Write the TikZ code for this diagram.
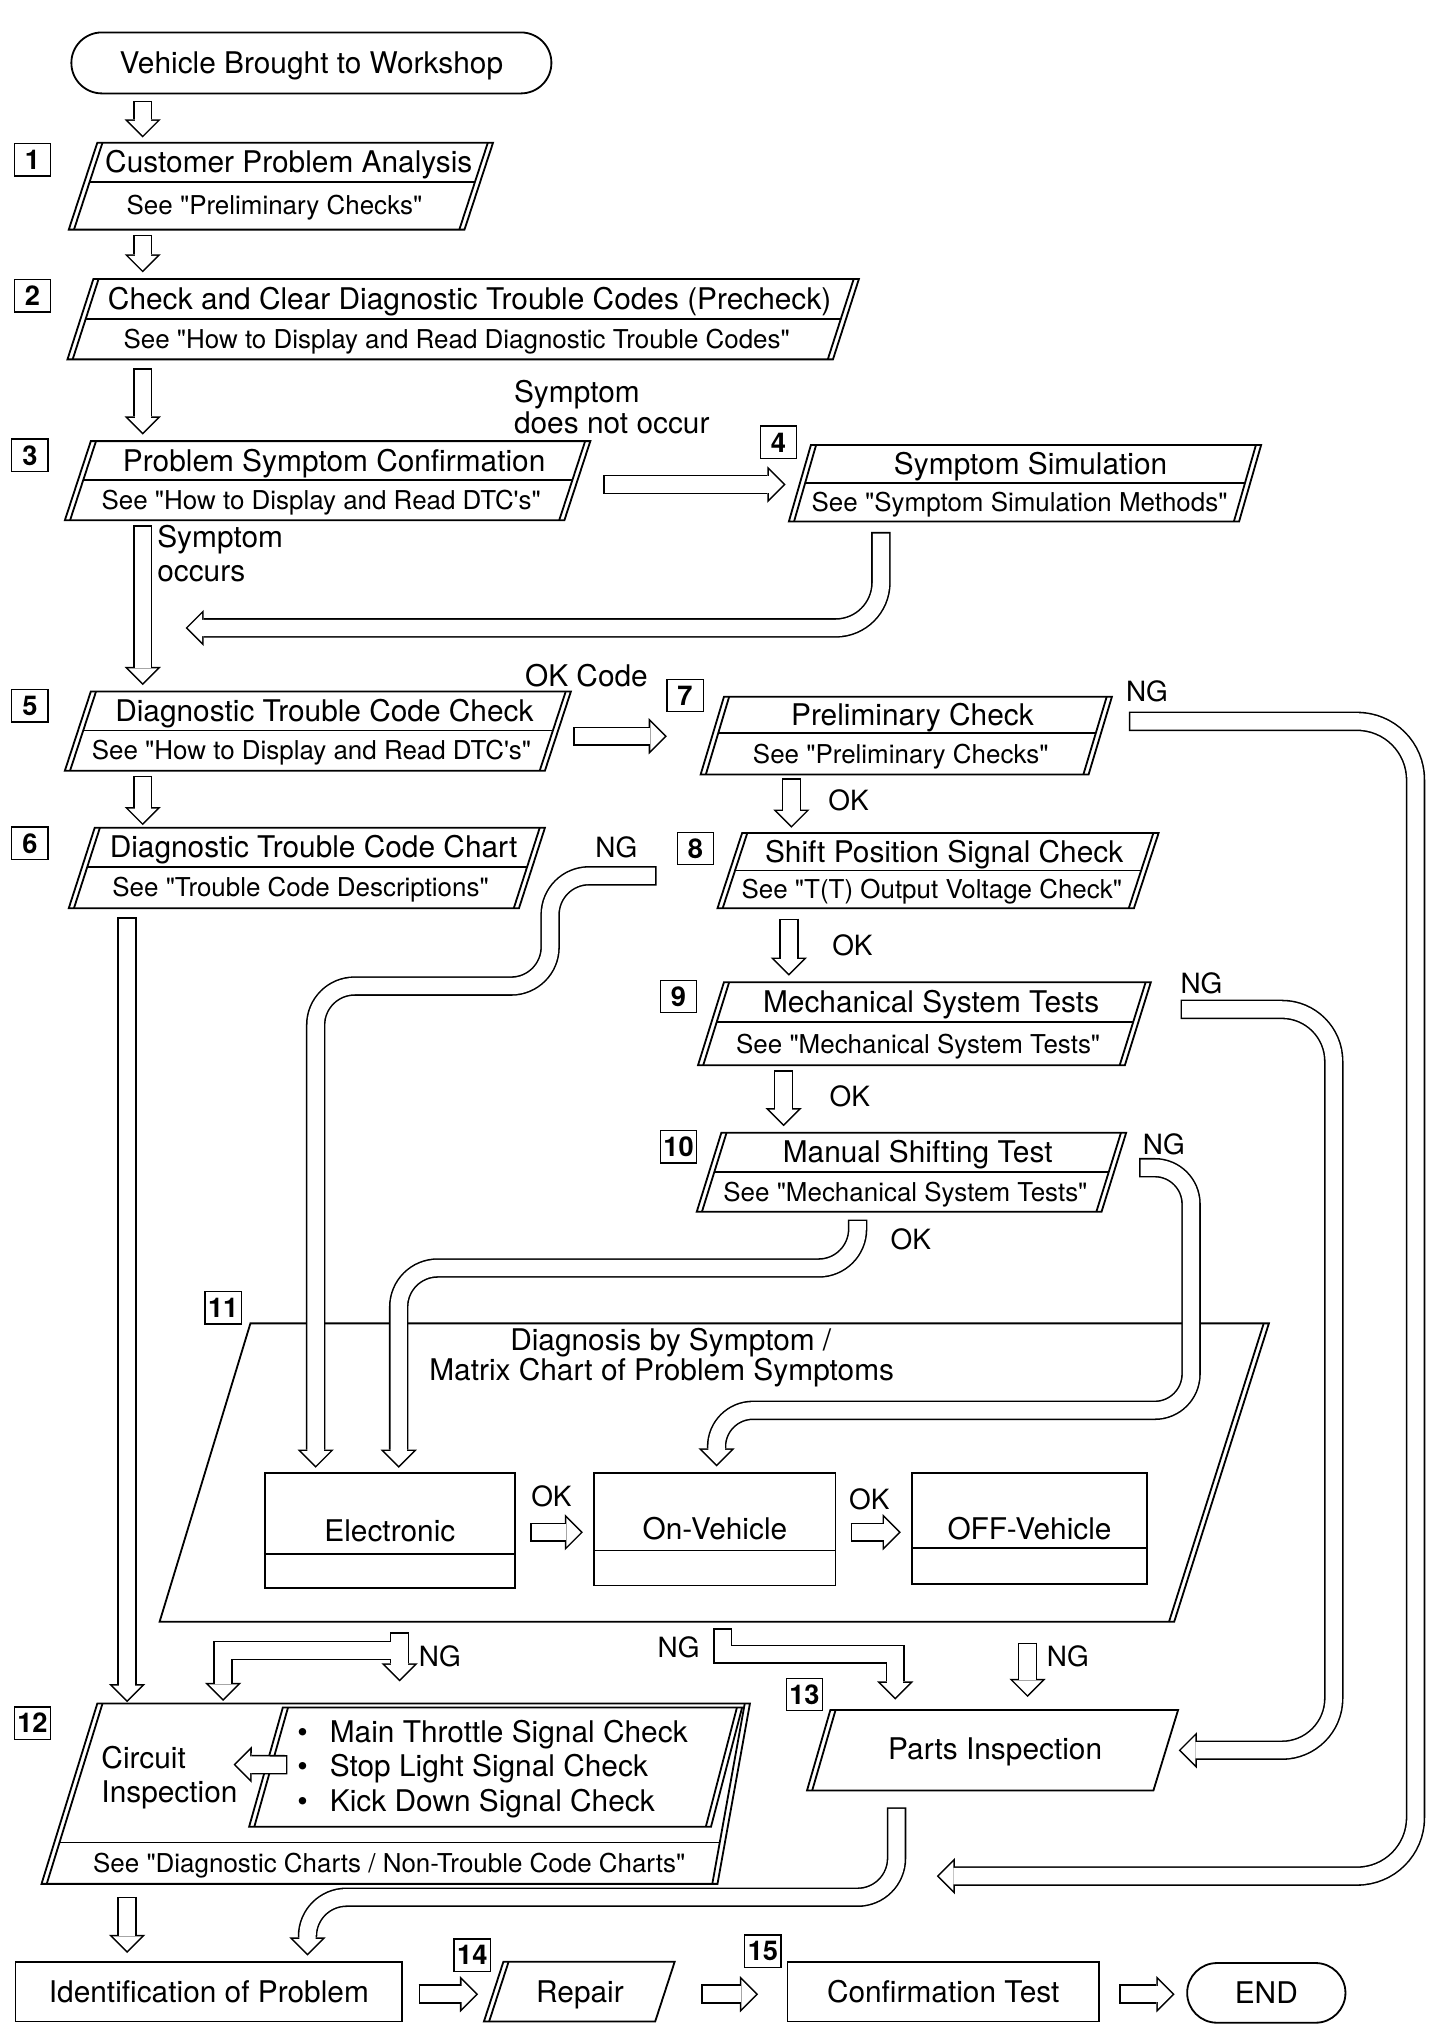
\documentclass[tikz,border=0pt]{standalone}
\usepackage{fontspec}
\setmainfont{TeX Gyre Heros}[Ligatures=TeXOff]
\usetikzlibrary{arrows.meta,calc}

\tikzset{
  frame/.style={line width=1.4pt},
  txt/.style={font=\fontsize{23}{26}\selectfont, inner sep=0pt, text height=16.5pt, text depth=0pt},
  sub/.style={font=\fontsize{20}{23}\selectfont, inner sep=0pt, text height=14.4pt, text depth=0pt},
  lbl/.style={font=\fontsize{21.5}{24}\selectfont, inner sep=0pt, text height=15.5pt, text depth=0pt},
  num/.style={draw, line width=1.1pt, font=\fontsize{21}{21}\selectfont\bfseries, minimum width=28pt, minimum height=25pt, inner sep=0pt},
  box/.style={draw, frame, txt},
  hbody/.style={line width=15pt, -{Triangle[length=14pt, width=28pt, line width=0pt]}},
  hcore/.style={draw=white, line width=12.6pt, shorten <=1.2pt, shorten >=1.7pt, -{Triangle[length=11.1pt, width=22.2pt, line width=0pt]}},
  hollow/.style={hbody, postaction={hcore}},
}

% step box: name, x top left, x top right, y top, y bottom, slant, y divider, title, reference
\newcommand\stepbox[9]{%
  \coordinate (#1-tl) at (#2,#4);
  \coordinate (#1-tr) at (#3,#4);
  \coordinate (#1-br) at ({#3-#6},#5);
  \coordinate (#1-bl) at ({#2-#6},#5);
  \draw[frame] (#1-tl) -- (#1-tr) -- (#1-br) -- (#1-bl) -- cycle;
  \draw[frame] ($(#1-tl)+(4,0)$) -- ($(#1-bl)+(4,0)$);
  \draw[frame] ($(#1-tr)+(-4,0)$) -- ($(#1-br)+(-4,0)$);
  \draw[frame] ({#2+4-#6*(#7-#4)/(#5-#4)},#7) -- ({#3-4-#6*(#7-#4)/(#5-#4)},#7);
  \node[txt] (#1) at ({(#2+#3)/2-#6*(#7-#4)/(2*(#5-#4))},{(#4+#7)/2}) {#8};
  \node[sub] (#1-s) at ({(#2+#3)/2-#6*((#7+#5)/2-#4)/(#5-#4)},{(#7+#5)/2}) {#9};
}

\begin{document}
\begin{tikzpicture}[x=1pt, y=-1pt]
    \useasboundingbox (0,0) rectangle (1110,1560);

    % start
    \node[box, rounded corners=23.5pt, minimum width=370pt, minimum height=47pt] (start) at (240,48.5) {Vehicle Brought to Workshop};

    % step numbers
    \node[num] (n1) at (25,123) {1};
    \node[num] (n2) at (25,228) {2};
    \node[num] (n3) at (23,351) {3};
    \node[num] (n4) at (600,341) {4};
    \node[num] (n5) at (23,544) {5};
    \node[num] (n6) at (23,650) {6};
    \node[num] (n7) at (528,536) {7};
    \node[num] (n8) at (536,654) {8};
    \node[num] (n9) at (523,768) {9};
    \node[num] (n10) at (523,884) {10};
    \node[num] (n11) at (172,1008) {11};
    \node[num] (n12) at (25,1328) {12};
    \node[num] (n13) at (620,1306) {13};
    \node[num] (n14) at (364,1507) {14};
    \node[num] (n15) at (588,1504) {15};

    % steps
    \stepbox{s1}{75}{380}{110}{177}{22}{140}{Customer Problem Analysis}{See "Preliminary Checks"}
    \stepbox{s2}{72}{662}{215}{277}{20}{246}{Check and Clear Diagnostic Trouble Codes (Precheck)}{See "How to Display and Read Diagnostic Trouble Codes"}
    \stepbox{s3}{70}{455}{340}{401}{20}{370}{Problem Symptom Confirmation}{See "How to Display and Read DTC's"}
    \stepbox{s4}{625}{972}{343}{402}{17}{372}{Symptom Simulation}{See "Symptom Simulation Methods"}
    \stepbox{s5}{70}{440}{533}{594}{20}{563}{Diagnostic Trouble Code Check}{See "How to Display and Read DTC's"}
    \stepbox{s6}{73}{420}{638}{700}{20}{668}{Diagnostic Trouble Code Chart}{See "Trouble Code Descriptions"}
    \stepbox{s7}{558}{857}{537}{597}{18}{565}{Preliminary Check}{See "Preliminary Checks"}
    \stepbox{s8}{572}{893}{642}{700}{19}{671}{Shift Position Signal Check}{See "T(T) Output Voltage Check"}
    \stepbox{s9}{558}{887}{757}{821}{20}{788}{Mechanical System Tests}{See "Mechanical System Tests"}
    \stepbox{s10}{556}{868}{873}{934}{19}{903}{Manual Shifting Test}{See "Mechanical System Tests"}

    % 11: diagnosis by symptom
    \coordinate (m-tl) at (193,1020);
    \coordinate (m-tr) at (978,1020);
    \coordinate (m-br) at (905,1250);
    \coordinate (m-bl) at (123,1250);
    \draw[frame] (m-tl) -- (m-tr) -- (m-br) -- (m-bl) -- cycle;
    \draw[frame] ($(m-tr)+(-4,0)$) -- ($(m-br)+(-4,0)$);
    \node[txt] (m1) at (517,1033) {Diagnosis by Symptom /};
    \node[txt] (m2) at (510,1056) {Matrix Chart of Problem Symptoms};
    \node[box, minimum width=193pt, minimum height=89pt] (elec) at (300.5,1179.5) {Electronic};
    \node[box, minimum width=186pt, minimum height=87pt] (onv) at (551,1178.5) {On-Vehicle};
    \node[box, minimum width=181pt, minimum height=86pt] (offv) at (793.5,1178) {OFF-Vehicle};
    \draw[frame] ([yshift=-18.5pt]elec.west) -- ([yshift=-18.5pt]elec.east);
    \draw[frame] ([yshift=-16.5pt]onv.west) -- ([yshift=-16.5pt]onv.east);
    \draw[frame] ([yshift=-15pt]offv.west) -- ([yshift=-15pt]offv.east);

    % 12: circuit inspection
    \coordinate (c12-tl) at (75,1313);
    \coordinate (c12-tr) at (578,1313);
    \coordinate (c12-br) at (553,1452);
    \coordinate (c12-bl) at (32,1452);
    \draw[frame] (c12-tl) -- (c12-tr) -- (c12-br) -- (c12-bl) -- cycle;
    \draw[frame] ($(c12-tl)+(4,0)$) -- ($(c12-bl)+(4,0)$);
    \draw[frame] ($(c12-tr)+(-4,0)$) -- ($(c12-br)+(-4,0)$);
    \draw[frame] ($(c12-tl)!0.77!(c12-bl)+(4,0)$) -- ($(c12-tr)!0.77!(c12-br)+(-4,0)$);
    \coordinate (b12-tl) at (218,1316);
    \coordinate (b12-tr) at (572,1316);
    \coordinate (b12-br) at (548,1408);
    \coordinate (b12-bl) at (192,1408);
    \draw[frame] (b12-tl) -- (b12-tr) -- (b12-br) -- (b12-bl) -- cycle;
    \draw[frame] ($(b12-tl)+(4,0)$) -- ($(b12-bl)+(4,0)$);
    \draw[frame] ($(b12-tr)+(-4,0)$) -- ($(b12-br)+(-4,0)$);
    \node[txt, anchor=west] (circ) at (78,1355) {Circuit};
    \node[txt, anchor=west] (insp) at (78,1381) {Inspection};
    \node[txt, anchor=west] (b12a) at (229,1335) {\textbullet\hspace{17pt}Main Throttle Signal Check};
    \node[txt, anchor=west] (b12b) at (229,1361) {\textbullet\hspace{17pt}Stop Light Signal Check};
    \node[txt, anchor=west] (b12c) at (229,1388) {\textbullet\hspace{17pt}Kick Down Signal Check};
    \node[sub] (c12-s) at (300,1436) {See "Diagnostic Charts / Non-Trouble Code Charts"};

    % 13: parts inspection
    \coordinate (p13-tl) at (640,1318);
    \coordinate (p13-tr) at (908,1318);
    \coordinate (p13-br) at (889,1380);
    \coordinate (p13-bl) at (622,1380);
    \draw[frame] (p13-tl) -- (p13-tr) -- (p13-br) -- (p13-bl) -- cycle;
    \draw[frame] ($(p13-tl)+(4,0)$) -- ($(p13-bl)+(4,0)$);
    \node[txt] (parts) at (767,1348) {Parts Inspection};

    % last row
    \node[box, minimum width=298pt, minimum height=46pt] (ident) at (161,1535) {Identification of Problem};
    \coordinate (rep-tl) at (388,1512);
    \coordinate (rep-tr) at (520,1512);
    \coordinate (rep-br) at (505,1558);
    \coordinate (rep-bl) at (373,1558);
    \draw[frame] (rep-tl) -- (rep-tr) -- (rep-br) -- (rep-bl) -- cycle;
    \draw[frame] ($(rep-tl)+(4,0)$) -- ($(rep-bl)+(4,0)$);
    \node[txt] (rep) at (447,1535) {Repair};
    \node[box, minimum width=240pt, minimum height=46pt] (conf) at (727,1535) {Confirmation Test};
    \node[box, rounded corners=23pt, minimum width=122pt, minimum height=46pt] (end) at (976,1536) {END};

    % labels
    \node[txt, anchor=west] (sno) at (396,302) {Symptom};
    \node[txt, anchor=west] (sno2) at (396,326) {does not occur};
    \node[txt, anchor=west] (syes) at (121,414) {Symptom};
    \node[txt, anchor=west] (syes2) at (121,440) {occurs};
    \node[txt] (okc) at (452,521) {OK Code};
    \node[lbl] (ng7) at (884,533) {NG};
    \node[lbl] (ng6) at (475,653) {NG};
    \node[lbl] (ng9) at (926,758) {NG};
    \node[lbl] (ng10) at (897,882) {NG};
    \node[lbl] (ngl) at (339,1277) {NG};
    \node[lbl] (ngm) at (523,1270) {NG};
    \node[lbl] (ngr) at (823,1277) {NG};
    \node[lbl] (ok7) at (654,617) {OK};
    \node[lbl] (ok8) at (657,729) {OK};
    \node[lbl] (ok9) at (655,845) {OK};
    \node[lbl] (ok10) at (702,955) {OK};
    \node[lbl] (oke) at (425,1153) {OK};
    \node[lbl] (oko) at (670,1156) {OK};

    % connector ends
    \coordinate (colA) at (110,0);
    \coordinate (colB) at (98,0);
    \coordinate (ret4) at (143,484);
    \coordinate (g7a) at (1091,1446);
    \coordinate (g7b) at (722,1446);
    \coordinate (g9a) at (1028,1349);
    \coordinate (g6a) at (424,760);
    \coordinate (g10a) at (918,1087);
    \coordinate (gl) at ($(m-bl)+(185,8)$);

    % main column
    \draw[hollow] ($(start.south -| colA)+(0,5)$) -- ($(s1-tl -| colA)+(0,-4)$);
    \draw[hollow] ($(s1-bl -| colA)+(0,4)$) -- ($(s2-tl -| colA)+(0,-5)$);
    \draw[hollow] ($(s2-bl -| colA)+(0,7)$) -- ($(s3-tl -| colA)+(0,-5)$);
    \draw[hollow] ($(s3-bl -| colA)+(0,4)$) -- ($(s5-tl -| colA)+(0,-5)$);
    \draw[hollow] ($(s5-bl -| colA)+(0,4)$) -- ($(s6-tl -| colA)+(0,-2)$);
    \draw[hollow] ($(s6-bl -| colB)+(0,7)$) -- ($(c12-tl -| colB)+(0,-1)$);
    \draw[hollow] ($(c12-bl -| colB)+(0,10)$) -- ($(ident.north -| colB)+(0,-6)$);

    % right column
    \draw[hollow] ($(s3-tr)!0.5!(s3-br)+(20,3)$) -- ($(s4-tl)!0.5!(s4-bl)+(-11,1)$);
    \draw[hollow, rounded corners=35pt] ($(s4-bl)+(71,8)$) |- (ret4);
    \draw[hollow] ($(s5-tr)!0.5!(s5-br)+(12,4)$) -- ($(s7-tl)!0.5!(s7-bl)+(-35,0.5)$);
    \draw[hollow] ($(s7-bl)+(70,3)$) -- ($(s8-tl)+(38,-4)$);
    \draw[hollow] ($(s8-bl)+(55,8)$) -- ($(s9-tl)+(50,-5)$);
    \draw[hollow] ($(s9-bl)+(66,4)$) -- ($(s10-tl)+(48,-5)$);

    % NG and OK loops
    \draw[hollow, rounded corners=45pt] ($(s7-tr)+(13,19)$) -| (g7a) -- (g7b);
    \draw[hollow, rounded corners=40pt] ($(s9-tr)+(23,21)$) -| (g9a) -- ($(p13-tr)!0.5!(p13-br)+(10,0)$);
    \draw[hollow, rounded corners=30pt] ($(s6-tr)+(86,37)$) -| (g6a) -| ($(elec.north west)+(40,-3)$);
    \draw[hollow, rounded corners=30pt] ($(s10-bl)+(124,6)$) |- ($(elec.north west)+(104,-157)$) -- ($(elec.north west)+(104,-3)$);
    \draw[hollow, rounded corners=28pt] ($(s10-tr)+(10,27)$) -| (g10a) -| ($(onv.north west)+(95,-4)$);

    % inside 11
    \draw[hollow] ($(elec.east)+(11,1.5)$) -- ($(onv.west)+(-8,2.5)$);
    \draw[hollow] ($(onv.east)+(11,2.5)$) -- ($(offv.west)+(-8,3)$);

    % below 11
    \draw[hbody] (gl) |- ($(c12-tl)+(97,-41)$) -- ($(c12-tl)+(97,-2)$);
    \draw[hbody] (gl) -- ($(b12-tl)+(90,-20)$);
    \draw[hcore] (gl) |- ($(c12-tl)+(97,-41)$) -- ($(c12-tl)+(97,-2)$);
    \draw[hcore] (gl) -- ($(b12-tl)+(90,-20)$);
    \draw[hollow] ($(m-br)+(-348,5)$) |- ($(p13-tl)+(50,-43)$) -- ($(p13-tl)+(50,-8)$);
    \draw[hollow] ($(m-br)+(-113,16)$) -- ($(p13-tl)+(152,-10)$);
    \draw[hollow] ($(b12-tl)!0.48!(b12-bl)+(16,0)$) -- ($(c12-tl)+(105,47)$);
    \draw[hollow, rounded corners=30pt] ($(p13-bl)+(69,13)$) |- ($(ident.north)+(76,-49)$) -- ($(ident.north)+(76,-4)$);

    % last row
    \draw[hollow] ($(ident.east)+(12,2)$) -- ($(rep-bl)!0.5!(rep-tl)+(-12,2)$);
    \draw[hollow] ($(rep-tr)!0.5!(rep-br)+(28,2)$) -- ($(conf.west)+(-22,2)$);
    \draw[hollow] ($(conf.east)+(15,2)$) -- ($(end.west)+(-9,1)$);
\end{tikzpicture}
\end{document}
